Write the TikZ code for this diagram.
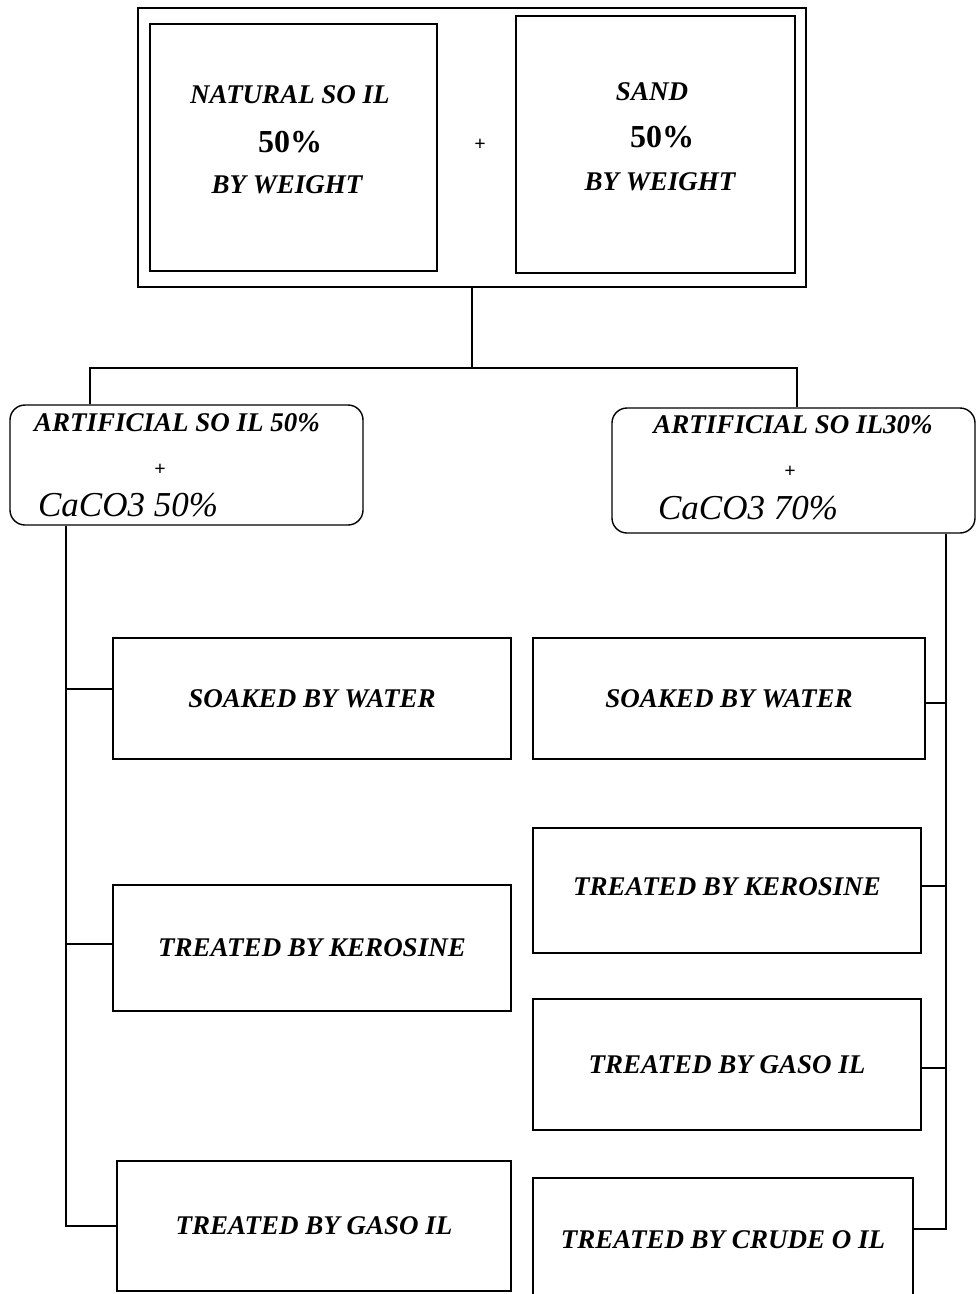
\documentclass[tikz,border=0pt]{standalone}
\usepackage{fontspec}
\setmainfont{Liberation Serif}
\begin{document}
\begin{tikzpicture}[x=1pt, y=-1pt, line width=1.4pt,
		box/.style={draw, rectangle, inner sep=0pt, font=\fontsize{27}{30}\selectfont\bfseries\itshape},
		rbox/.style={draw, rectangle, rounded corners=15pt, inner sep=0pt},
		txt/.style={inner sep=0pt, font=\fontsize{27}{30}\selectfont\bfseries\itshape},
		pct/.style={inner sep=0pt, font=\fontsize{32}{34}\selectfont\bfseries},
		chem/.style={inner sep=0pt, font=\fontsize{35}{38}\selectfont\itshape},
		plus/.style={inner sep=0pt, font=\fontsize{20}{22}\selectfont\bfseries}]
		\useasboundingbox (0,0) rectangle (976,1294);

		% mixture
		\node [draw, minimum width=668pt, minimum height=279pt] (top) at (472,147.5) {};
		\node [box, minimum width=287pt, minimum height=247pt] (nsoil) at (293.5,147.5) {};
		\node [txt] (nsoilA) at (290,95) {NATURAL SO IL};
		\node [pct] (nsoilP) at (290,142) {50\%};
		\node [txt] (nsoilB) at (287,185) {BY WEIGHT};
		\node [plus] (mix) at (480,145) {+};
		\node [box, minimum width=279pt, minimum height=257pt] (sand) at (655.5,144.5) {};
		\node [txt] (sandA) at (652,92) {SAND};
		\node [pct] (sandP) at (662,137) {50\%};
		\node [txt] (sandB) at (660,182) {BY WEIGHT};

		% artificial soils
		\node [rbox, minimum width=353pt, minimum height=120pt] (art1) at (186.5,465) {};
		\node [txt] (art1A) at (177,423) {ARTIFICIAL SO IL 50\%};
		\node [plus] (art1P) at (160,470) {+};
		\node [chem] (art1C) at (128,505) {CaCO3 50\%};
		\node [rbox, minimum width=363pt, minimum height=125pt] (art2) at (793.5,470.5) {};
		\node [txt] (art2A) at (793,425) {ARTIFICIAL SO IL30\%};
		\node [plus] (art2P) at (790,472) {+};
		\node [chem] (art2C) at (748,508) {CaCO3 70\%};

		\coordinate (jl) at (90,368);
		\coordinate (jr) at (797,368);
		\draw (top.south) -- (top.south |- jl);
		\draw (art1.north -| jl) -- (jl) -- (jr) -- (art2.north -| jr);

		% left branch
		\node [box, minimum width=398pt, minimum height=121pt] (lwater) at (312,698.5) {SOAKED BY WATER};
		\node [box, minimum width=398pt, minimum height=126pt] (lkero) at (312,948) {TREATED BY KEROSINE};
		\node [box, minimum width=394pt, minimum height=130pt] (lgas) at (314,1226) {TREATED BY GASO IL};
		\coordinate (sl) at (66,0);
		\draw (art1.south -| sl) |- (lgas.west);
		\draw ([yshift=9.5pt]lwater.west) -- ([yshift=9.5pt]lwater.west -| sl);
		\draw ([yshift=4pt]lkero.west) -- ([yshift=4pt]lkero.west -| sl);

		% right branch
		\node [box, minimum width=392pt, minimum height=121pt] (rwater) at (729,698.5) {SOAKED BY WATER};
		\node [box, minimum width=388pt, minimum height=125pt] (rkero) at (727,890.5) {\raisebox{8pt}{TREATED BY KEROSINE}};
		\node [box, minimum width=388pt, minimum height=131pt] (rgas) at (727,1064.5) {TREATED BY GASO IL};
		\node [box, minimum width=380pt, minimum height=124pt] (rcrude) at (723,1240) {TREATED BY CRUDE O IL};
		\coordinate (sr) at (946,0);
		\draw (art2.south -| sr) |- ([yshift=11pt]rcrude.east);
		\draw ([yshift=-4.5pt]rwater.east) -- ([yshift=-4.5pt]rwater.east -| sr);
		\draw ([yshift=4.5pt]rkero.east) -- ([yshift=4.5pt]rkero.east -| sr);
		\draw ([yshift=-3.5pt]rgas.east) -- ([yshift=-3.5pt]rgas.east -| sr);
\end{tikzpicture}
\end{document}
